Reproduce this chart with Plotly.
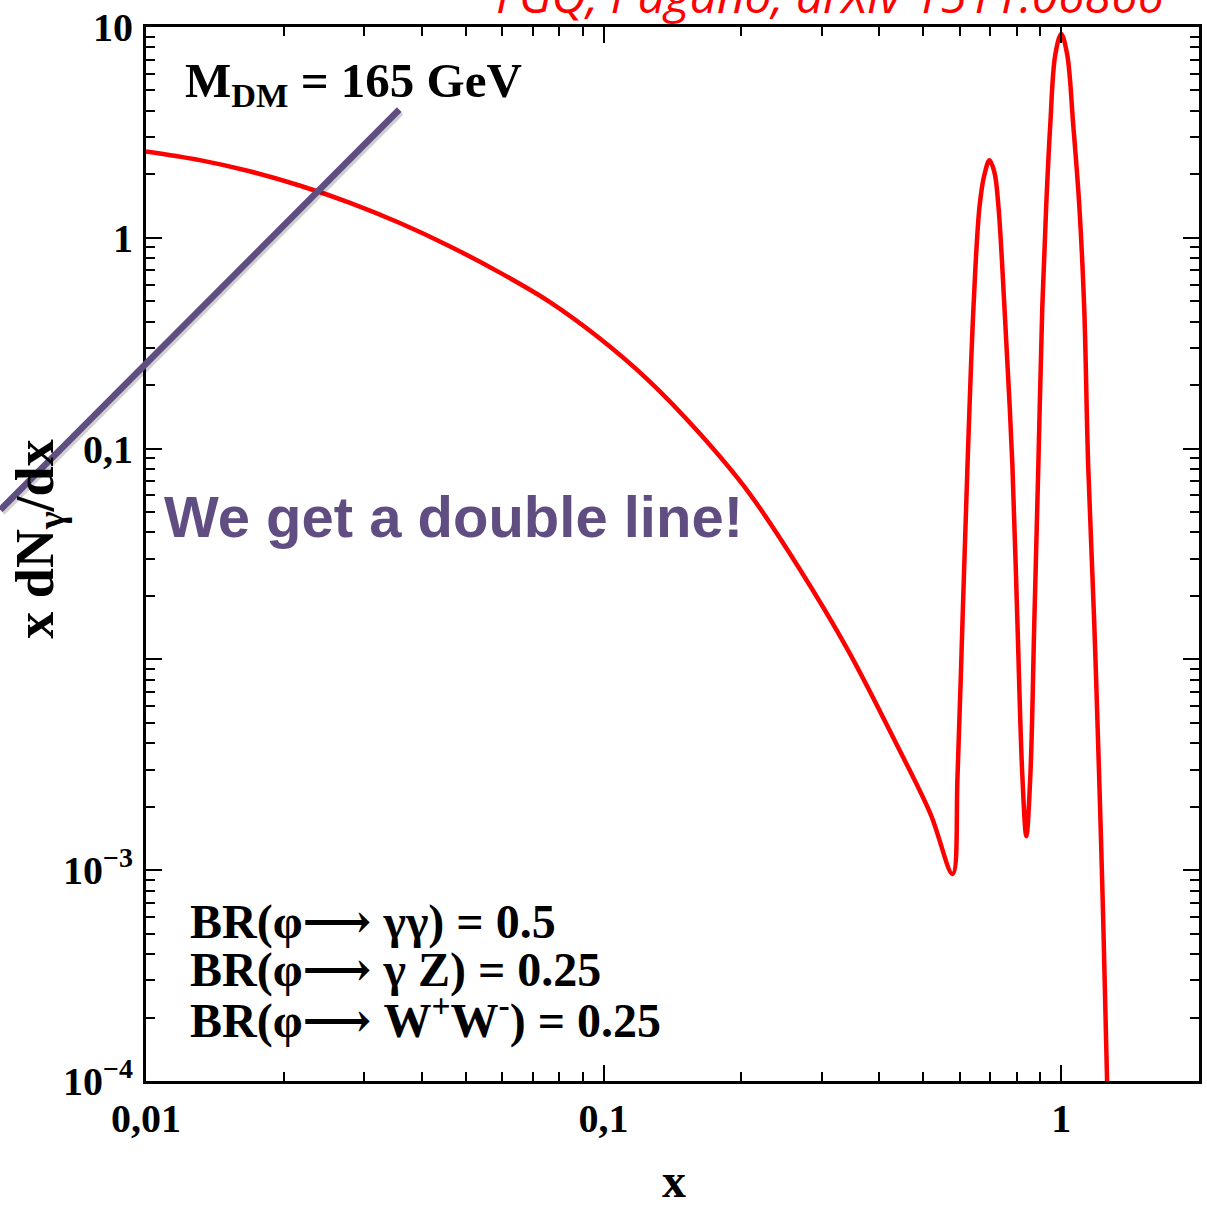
import plotly.graph_objects as go

# Photon spectrum x dN/dx for M_DM = 165 GeV
x_vals = [0.0100, 0.01311, 0.01685, 0.02165, 0.02783, 0.03576, 0.04595, 0.05905,
          0.07589, 0.09752, 0.1253, 0.1611, 0.2070, 0.2660, 0.3419, 0.4392,
          0.5184, 0.5788,
          0.5935, 0.6085, 0.6240, 0.6431, 0.6630, 0.6797, 0.6969, 0.7145,
          0.7290, 0.7513, 0.7820, 0.8018, 0.8222, 0.8388,
          0.8560, 0.8735, 0.8912, 0.9091, 0.9275, 0.9463, 0.9703, 1.0000,
          1.0306, 1.0620, 1.0945, 1.1222, 1.1450, 1.1800, 1.2100, 1.2345,
          1.2594, 1.29]
y_vals = [2.57, 2.337, 2.069, 1.771, 1.469, 1.178, 0.9147, 0.6875,
          0.4994, 0.3364, 0.2108, 0.1198, 0.06238, 0.02760, 0.01107, 0.003859,
          0.001842, 0.000960,
          0.002814, 0.01535, 0.0837, 0.4713, 1.413, 2.001, 2.330, 2.045,
          1.413, 0.4713, 0.0837, 0.01535, 0.002814, 0.00145,
          0.002814, 0.01535, 0.0837, 0.4713, 1.444, 3.445, 7.374, 9.27,
          7.374, 3.445, 1.444, 0.4713, 0.0837, 0.01535, 0.002814, 0.000608,
          1e-4, 1e-5]

x_tick_vals = [0.01, 0.1, 1]
x_tick_text = ["0,01", "0,1", "1"]
y_tick_vals = [10, 1, 0.1, 0.01, 1e-3, 1e-4]
y_tick_text = ["10", "1", "0,1", "", "10<sup>\u22123</sup>", "10<sup>\u22124</sup>"]

br_lines = [
    "BR(\u03c6\u27f6 \u03b3\u03b3) = 0.5",
    "BR(\u03c6\u27f6 \u03b3 Z) = 0.25",
    "BR(\u03c6\u27f6 W<sup>+</sup>W<sup>-</sup>) = 0.25",
]

SERIF = "Liberation Serif, Times New Roman, DejaVu Serif, serif"
PURPLE = "rgb(96,78,130)"

# minor tick positions (2..9 in each decade)
x_minor = [k * 10.0 ** d for d in (-2, -1, 0) for k in range(2, 10) if k * 10.0 ** d <= 2.0001]
y_minor = [k * 10.0 ** d for d in (-4, -3, -2, -1, 0) for k in range(2, 10)]

fig = go.Figure()
fig.add_trace(go.Scatter(
    x=x_vals, y=y_vals, mode="lines",
    line=dict(color="#ff0000", width=4.5, shape="spline", smoothing=1.0),
    showlegend=False, hoverinfo="skip",
))

axis_common = dict(
    type="log", showgrid=False, zeroline=False,
    showline=True, linecolor="black", linewidth=3, mirror="allticks",
    ticks="inside", ticklen=16, tickwidth=2, tickcolor="black",
    tickfont=dict(family=SERIF, size=40, color="black", weight="bold"),
)

fig.update_xaxes(
    **axis_common, range=[-2, 0.30103],
    tickmode="array", tickvals=x_tick_vals, ticktext=x_tick_text,
    ticklabelstandoff=0,
    minor=dict(tickmode="array", tickvals=x_minor, ticks="inside", ticklen=9,
               tickwidth=1.5, tickcolor="black", showgrid=False),
)
fig.update_yaxes(
    **axis_common, range=[-4, 1],
    tickmode="array", tickvals=y_tick_vals, ticktext=y_tick_text,
    ticklabelstandoff=2,
    minor=dict(tickmode="array", tickvals=y_minor, ticks="inside", ticklen=9,
               tickwidth=1.5, tickcolor="black", showgrid=False),
)

annotations = [
    dict(text="M<sub>DM</sub> = 165 GeV", x=0.035, y=0.946, xref="paper", yref="paper",
         xanchor="left", yanchor="middle", showarrow=False,
         font=dict(family=SERIF, size=49, color="black", weight="bold")),
    dict(text="We get a double line!", x=0.0152, y=0.5355, xref="paper", yref="paper",
         xanchor="left", yanchor="middle", showarrow=False,
         font=dict(family="Liberation Sans, Arial, sans-serif", size=58, color=PURPLE,
                   weight="bold")),
    dict(text="x dN<sub>\u03b3</sub>/dx", x=-0.1025, y=0.5137, xref="paper", yref="paper",
         xanchor="center", yanchor="middle", textangle=-90, showarrow=False,
         font=dict(family=SERIF, size=54, color="black", weight="bold")),
    dict(text="x", x=0.501, y=-0.094, xref="paper", yref="paper",
         xanchor="center", yanchor="middle", showarrow=False,
         font=dict(family=SERIF, size=48, color="black", weight="bold")),
    dict(text="FGQ, Pagano, arXiv 1511.06866", x=0.3305, y=0.998, xref="paper", yref="paper",
         xanchor="left", yanchor="bottom", showarrow=False,
         font=dict(family="Open Sans, sans-serif", size=48, color="#ff0000", style="italic")),
]
for i, line in enumerate(br_lines):
    annotations.append(dict(
        text=line, x=0.0398, y=[0.1510, 0.1056, 0.0600][i], xref="paper", yref="paper",
        xanchor="left", yanchor="middle", showarrow=False,
        font=dict(family=SERIF, size=48, color="black", weight="bold"),
    ))

fig.update_layout(
    width=1207, height=1208,
    margin=dict(l=146, r=5, t=22, b=127),
    paper_bgcolor="white", plot_bgcolor="white",
    annotations=annotations,
    shapes=[
        # soft shadow under the pointer line
        dict(type="line", xref="paper", yref="paper",
             x0=-0.1364, y0=0.5392, x1=0.2424, y1=0.9188,
             line=dict(color="rgba(0,0,0,0.18)", width=6)),
        dict(type="line", xref="paper", yref="paper",
             x0=-0.1383, y0=0.5420, x1=0.2405, y1=0.9216,
             line=dict(color=PURPLE, width=6.5)),
    ],
)

fig.write_html("out.html")
